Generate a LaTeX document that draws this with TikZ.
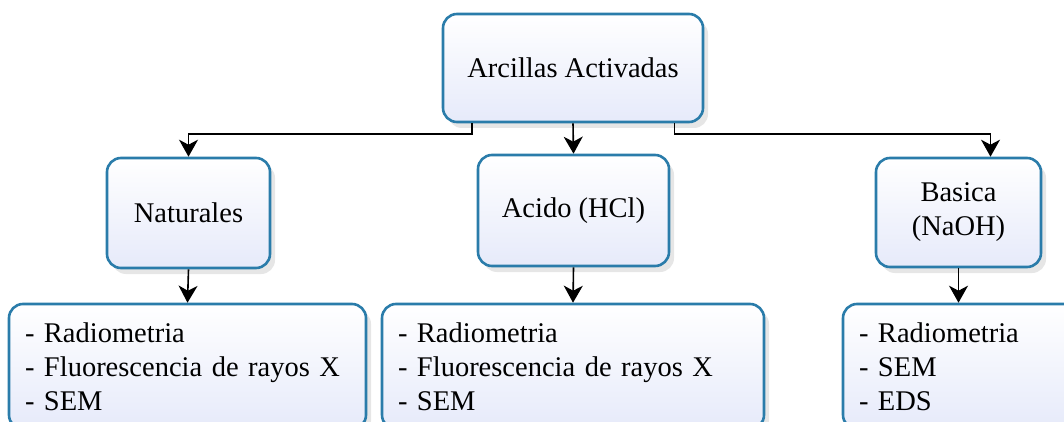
\documentclass[tikz,border=0pt]{standalone}
\usepackage{fontspec}
\setmainfont{Liberation Serif}
\usetikzlibrary{arrows.meta,shadows}
\definecolor{edge}{RGB}{42,124,170}
\definecolor{paleblue}{RGB}{230,234,250}

\begin{document}
\begin{tikzpicture}[
  x=1pt,
  y=1pt,
  box/.style={draw=edge,line width=2.6pt,rounded corners=14pt,top color=white,bottom color=paleblue,
    font=\fontsize{28.5}{34}\selectfont,align=center,inner sep=0pt,
    drop shadow={opacity=0.2,shadow xshift=5pt,shadow yshift=-6pt}},
  leaf/.style={box,align=left,inner xsep=16pt},
  conn/.style={-{Stealth[length=17pt,width=19pt,inset=5pt]},line width=1.6pt}
]
\useasboundingbox (0,0) rectangle (1064,421);
\clip (0,0) rectangle (1064,421);
% root
\node[box,minimum width=260pt,minimum height=108pt] (top) at (573,353) {Arcillas Activadas};
% treatments
\node[box,minimum width=163pt,minimum height=110pt] (nat) at (188.5,208) {Naturales};
\node[box,minimum width=191pt,minimum height=111pt] (acid) at (573.5,210.5) {Acido (HCl)};
\node[box,minimum width=165pt,minimum height=109pt] (bas) at (958.5,208.5) {Basica\\(NaOH)};
% techniques
\node[leaf,text width=325pt,minimum height=125pt] (natl) at (187.5,54.5)
  {- Radiometria\\- Fluorescencia de rayos X\\- SEM};
\node[leaf,text width=350pt,minimum height=125pt] (acidl) at (573,54.5)
  {- Radiometria\\- Fluorescencia de rayos X\\- SEM};
\node[leaf,text width=225pt,minimum height=125pt] (basl) at (971.5,54.5)
  {- Radiometria\\- SEM\\- EDS};
% connectors
\draw[conn] ([xshift=30pt]top.south west) -- ++(0,-11) -| (nat.north);
\draw[conn] (top.south) -- (acid.north);
\draw[conn] ([xshift=-30pt]top.south east) -- ++(0,-11) -| ([xshift=32pt]bas.north);
\draw[conn] (nat.south) -- (natl.north);
\draw[conn] (acid.south) -- (acidl.north);
\draw[conn] (bas.south) -- (basl.north -| bas.south);
\end{tikzpicture}
\end{document}
